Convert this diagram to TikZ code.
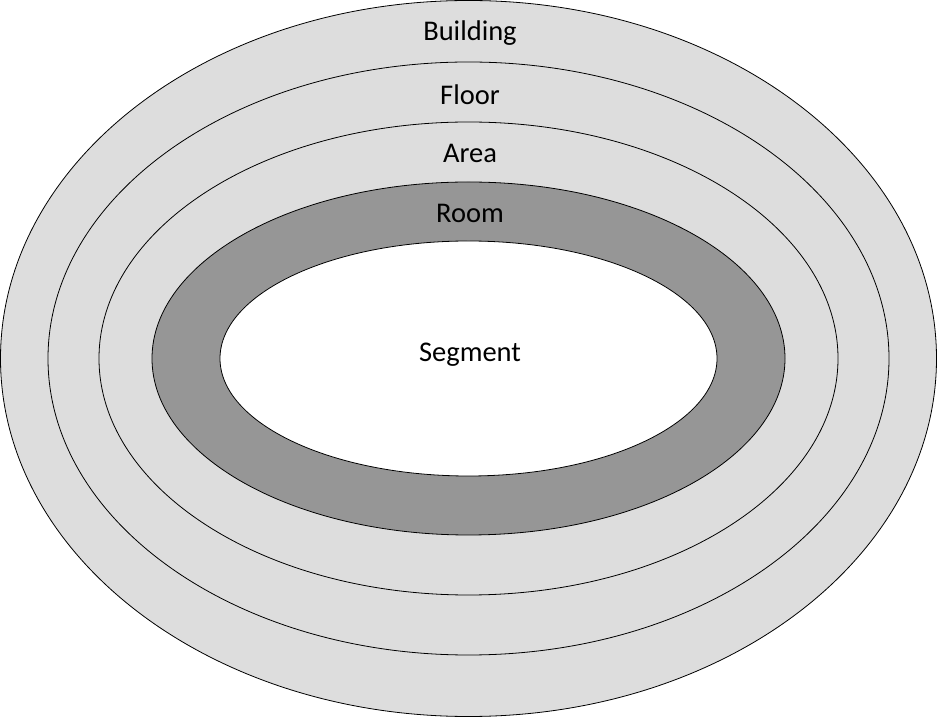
\documentclass[tikz,border=0pt]{standalone}
\usepackage{fontspec}
\setmainfont{Carlito}
\definecolor{lg}{HTML}{DDDDDD}
\definecolor{dg}{HTML}{969696}
\begin{document}
\begin{tikzpicture}[x=1pt,y=1pt,
  ring/.style={draw=black,line width=0.8pt},
  lbl/.style={font=\fontsize{28.5}{33}\selectfont}]
\useasboundingbox (0,0) rectangle (938,718);
\coordinate (c) at (468.5,359.5);
\draw[ring,fill=lg] (c) ellipse [x radius=468, y radius=358];
\draw[ring,fill=lg] (c) ellipse [x radius=420.5, y radius=296.5];
\draw[ring,fill=lg] (c) ellipse [x radius=369.5, y radius=236.5];
\draw[ring,fill=dg] (c) ellipse [x radius=316.5, y radius=176.5];
\draw[ring,fill=white] (c) ellipse [x radius=248.5, y radius=117.5];
\node[lbl] (b) at (470,685) {Building};
\node[lbl] (f) at (470,623) {Floor};
\node[lbl] (a) at (470,565) {Area};
\node[lbl] (r) at (470,505) {Room};
\node[lbl] (s) at (470,363) {Segment};
\end{tikzpicture}
\end{document}
